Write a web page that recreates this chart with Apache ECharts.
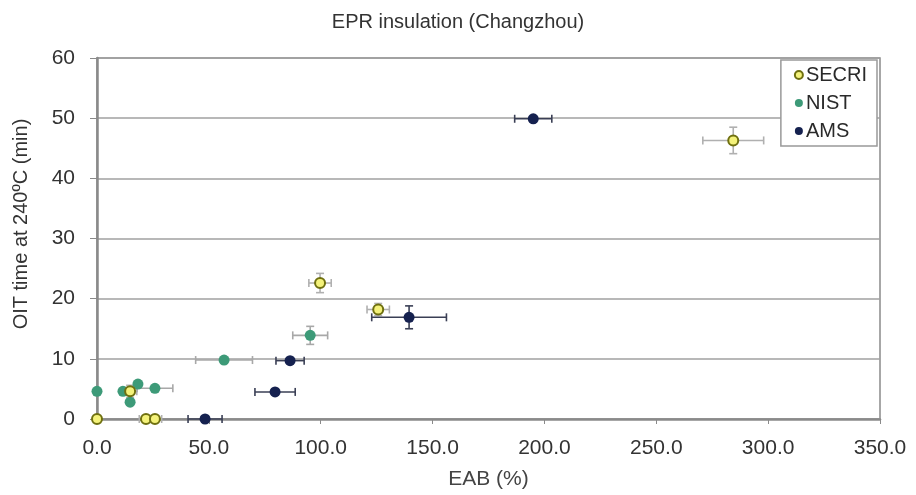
<!DOCTYPE html>
<html><head><meta charset="utf-8">
<script src="https://cdn.jsdelivr.net/npm/echarts@6/dist/echarts.min.js"></script>
<style>html,body{margin:0;padding:0;background:#fff}#c{width:916px;height:495px}</style>
</head><body><div id="c"></div>
<script>
// SECRI
const secriX = [0, 21.9, 25.9, 14.8, 99.7, 125.7, 284.4];
const secriY = [0, 0, 0, 4.6, 22.6, 18.2, 46.3];
const secriXErr = [0, 3, 3, 3, 5, 5, 13.6];
const secriYErr = [0, 0, 0, 1, 1.6, 1, 2.2];
// NIST
const nistX = [0, 11.6, 18.3, 14.8, 25.9, 56.8, 95.3];
const nistY = [4.6, 4.6, 5.8, 2.8, 5.1, 9.8, 13.9];
const nistXErr = [0, 0, 0, 0, 8, 12.7, 7.8];
const nistYErr = [0, 0, 0, 0, 0, 0, 1.5];
// AMS
const amsX = [48.3, 79.6, 86.3, 139.5, 195.0];
const amsY = [0, 4.5, 9.7, 16.9, 49.9];
const amsXErr = [7.6, 9, 6.3, 16.7, 8.3];
const amsYErr = [0, 0, 0, 1.9, 0];
const xTicks = [0, 50, 100, 150, 200, 250, 300, 350];
const yTicks = [0, 10, 20, 30, 40, 50, 60];

function pts(xs, ys){ return xs.map((x,i)=>[x, ys[i]]); }
function errData(xs, ys, xe, ye){ return xs.map((x,i)=>[x, ys[i], xe[i], ye[i]]); }
function errSeries(data, color){
  return {
    type:'custom', silent:true, z:2,
    data: data,
    renderItem: function(params, api){
      const x = api.value(0), y = api.value(1), dx = api.value(2), dy = api.value(3);
      const ch = [];
      const cap = 4;
      const st = {stroke: color, lineWidth: 1.6};
      if (dx > 0){
        const a = api.coord([x-dx, y]), b = api.coord([x+dx, y]);
        ch.push({type:'line', shape:{x1:a[0],y1:a[1],x2:b[0],y2:b[1]}, style:st});
        ch.push({type:'line', shape:{x1:a[0],y1:a[1]-cap,x2:a[0],y2:a[1]+cap}, style:st});
        ch.push({type:'line', shape:{x1:b[0],y1:b[1]-cap,x2:b[0],y2:b[1]+cap}, style:st});
      }
      if (dy > 0){
        const a = api.coord([x, y-dy]), b = api.coord([x, y+dy]);
        ch.push({type:'line', shape:{x1:a[0],y1:a[1],x2:b[0],y2:b[1]}, style:st});
        ch.push({type:'line', shape:{x1:a[0]-cap,y1:a[1],x2:a[0]+cap,y2:a[1]}, style:st});
        ch.push({type:'line', shape:{x1:b[0]-cap,y1:b[1],x2:b[0]+cap,y2:b[1]}, style:st});
      }
      return {type:'group', children: ch};
    }
  };
}

const chart = echarts.init(document.getElementById('c'), null, {renderer:'canvas'});
const font = 'Liberation Sans, Arial, sans-serif';
chart.setOption({
  animation:false,
  backgroundColor:'#fff',
  textStyle:{fontFamily:font},
  title:{text:'EPR insulation (Changzhou)', left:'center', top:7,
    textStyle:{fontSize:20, fontWeight:'normal', color:'#333', fontFamily:font}},
  graphic:[{
    type:'text', x:21, y:224, rotation:Math.PI/2, silent:true,
    style:{text:'OIT time at 240ºC (min)', fontSize:20, fill:'#333', fontFamily:font,
      align:'center', verticalAlign:'middle'}
  }],
  grid:{left:97, right:36, top:58, bottom:74, show:true, borderColor:'#8a8a8a', borderWidth:1.5},
  legend:{
    right:39, top:60, orient:'vertical', itemGap:8, itemWidth:8, itemHeight:8,
    backgroundColor:'#fff', borderColor:'#999', borderWidth:1.5, padding:[5,10,5,13],
    textStyle:{fontSize:20, color:'#2a2a2a', fontFamily:font, padding:[0,0,0,-2]},
    data:['SECRI','NIST','AMS']
  },
  xAxis:{
    type:'value', min:0, max:350, interval:50,
    name:'EAB (%)', nameLocation:'middle', nameGap:50,
    nameTextStyle:{fontSize:21, color:'#444', fontFamily:font},
    axisLine:{lineStyle:{color:'#8a8a8a', width:2.5}},
    axisTick:{show:true, inside:false, length:5, lineStyle:{color:'#8a8a8a'}},
    axisLabel:{fontSize:21, color:'#333', margin:19, formatter:v=>xTicks.includes(v)?v.toFixed(1):''},
    splitLine:{show:false}
  },
  yAxis:{
    type:'value', min:0, max:60, interval:10,
    axisLine:{show:true, lineStyle:{color:'#8a8a8a', width:2.5}},
    axisTick:{show:true, inside:false, length:7, lineStyle:{color:'#8a8a8a'}},
    axisLabel:{fontSize:21, color:'#333', margin:22, formatter:v=>yTicks.includes(v)?String(v):''},
    splitLine:{show:true, lineStyle:{color:'#a0a0a0', width:1.5}}
  },
  series:[
    errSeries(errData(secriX, secriY, secriXErr, secriYErr), '#b0b0b0'),
    errSeries(errData(nistX, nistY, nistXErr, nistYErr), '#a8a8a8'),
    errSeries(errData(amsX, amsY, amsXErr, amsYErr), '#3a3f55'),
    {name:'NIST', type:'scatter', z:3, data:pts(nistX, nistY), symbolSize:11,
      itemStyle:{color:'#3d9a78', opacity:1}},
    {name:'AMS', type:'scatter', z:3, data:pts(amsX, amsY), symbolSize:11,
      itemStyle:{color:'#15214f', opacity:1}},
    {name:'SECRI', type:'scatter', z:4, data:pts(secriX, secriY), symbolSize:10,
      itemStyle:{color:'#f4f27a', borderColor:'#6f7010', borderWidth:2, opacity:1}}
  ]
});
</script></body></html>
